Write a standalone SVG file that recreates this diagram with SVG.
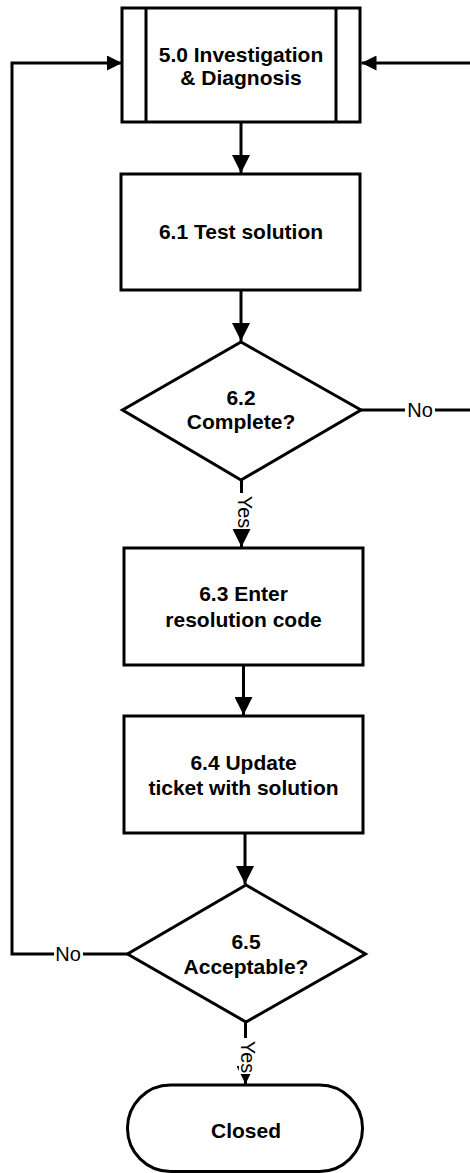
<svg xmlns="http://www.w3.org/2000/svg" width="470" height="1173" viewBox="0 0 470 1173">
<style>
.shape{fill:#fff;stroke:#000;stroke-width:3;stroke-linejoin:miter}
.line{fill:none;stroke:#000;stroke-width:3}
.t{font-family:"Liberation Sans",Arial,sans-serif;font-weight:bold;font-size:21px;fill:#000;text-anchor:middle}
.lbl{font-family:"Liberation Sans",Arial,sans-serif;font-size:20px;fill:#000;text-anchor:middle}
.bg{fill:#fff;stroke:none}
</style>
<defs>
<marker id="av" markerUnits="userSpaceOnUse" markerWidth="18" markerHeight="18" viewBox="0 0 18 18" refX="18" refY="9" orient="auto">
<path d="M0,0 L18,9 L0,18 z" fill="#000"/>
</marker>
<marker id="ah" markerUnits="userSpaceOnUse" markerWidth="15" markerHeight="15" viewBox="0 0 15 15" refX="15" refY="7.5" orient="auto">
<path d="M0,0 L15,7.5 L0,15 z" fill="#000"/>
</marker>
</defs>
<rect width="470" height="1173" fill="#fff"/>
<g id="connectors">
<line class="line" x1="241" y1="122" x2="241" y2="173" marker-end="url(#av)"/>
<line class="line" x1="241" y1="290" x2="241" y2="341" marker-end="url(#av)"/>
<line class="line" x1="241.5" y1="480" x2="241.5" y2="547" marker-end="url(#av)"/>
<line class="line" x1="243.5" y1="665" x2="243.5" y2="715" marker-end="url(#av)"/>
<line class="line" x1="245" y1="833" x2="245" y2="884" marker-end="url(#av)"/>
<line class="line" x1="245.5" y1="1022" x2="245.5" y2="1084" marker-end="url(#av)"/>
<polyline class="line" points="361,410 472,410"/>
<line class="line" x1="472" y1="63" x2="361.5" y2="63" marker-end="url(#ah)"/>
<polyline class="line" points="128,954 12,954 12,63 122,63" marker-end="url(#ah)"/>
<rect class="bg" x="405" y="398" width="30" height="22"/>
<text class="lbl" x="420" y="417">No</text>
<rect class="bg" x="54" y="943" width="29" height="22"/>
<text class="lbl" x="68" y="961">No</text>
<rect class="bg" x="236" y="493" width="17" height="36"/>
<text class="lbl" transform="translate(238,512) rotate(90)">Yes</text>
<rect class="bg" x="239" y="1038" width="17" height="36"/>
<text class="lbl" transform="translate(240.5,1057) rotate(90)">Yes</text>
</g>
<g id="n50">
<rect class="shape" x="122" y="8" width="238" height="114"/>
<line class="line" x1="146" y1="8" x2="146" y2="122"/>
<line class="line" x1="336" y1="8" x2="336" y2="122"/>
<text class="t" x="241" y="61.5">5.0 Investigation</text>
<text class="t" x="241" y="84.5">&amp; Diagnosis</text>
</g>
<g id="n61">
<rect class="shape" x="121" y="174" width="239" height="116"/>
<text class="t" x="241" y="238.5">6.1 Test solution</text>
</g>
<g id="n62">
<polygon class="shape" points="241,342 361,410 241,480 122.5,410"/>
<text class="t" x="241" y="405">6.2</text>
<text class="t" x="241" y="429">Complete?</text>
</g>
<g id="n63">
<rect class="shape" x="124" y="548" width="239" height="117"/>
<text class="t" x="243.5" y="601">6.3 Enter</text>
<text class="t" x="243.5" y="626.5">resolution code</text>
</g>
<g id="n64">
<rect class="shape" x="124" y="716" width="239" height="117"/>
<text class="t" x="243.5" y="770">6.4 Update</text>
<text class="t" x="243.5" y="795">ticket with solution</text>
</g>
<g id="n65">
<polygon class="shape" points="246,885 365.5,954 246,1022 127.5,954"/>
<text class="t" x="246" y="948.5">6.5</text>
<text class="t" x="246" y="974">Acceptable?</text>
</g>
<g id="closed">
<rect class="shape" x="127.5" y="1085" width="235" height="86.5" rx="43" ry="43"/>
<text class="t" x="246" y="1138">Closed</text>
</g>
</svg>
